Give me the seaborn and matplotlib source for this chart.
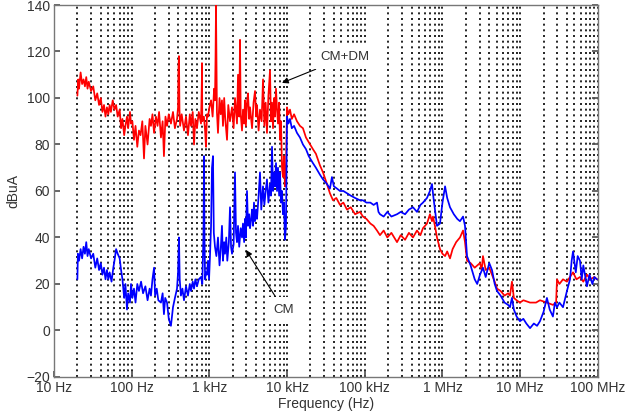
import matplotlib
matplotlib.use("Agg")
import matplotlib.pyplot as plt
import seaborn as sns
import pandas as pd
from matplotlib.ticker import FixedLocator, LogLocator, NullFormatter

# ---------------- data ----------------
cmdm_freq = [20, 20.5, 21, 22, 23, 24, 25, 26, 27, 28, 30, 32, 34, 36, 38, 40, 42, 44, 46, 48,
             50, 52, 54, 57, 60, 63, 66, 70, 73, 76, 80, 83, 87, 90, 95, 98, 102, 107, 112, 118,
             124, 130, 137, 144, 150, 160, 170, 177, 185, 194, 205, 215, 225, 238, 250, 260, 272,
             285, 300, 320, 340, 360, 383, 395, 400, 406, 412, 420, 440, 471, 500, 530, 560, 580,
             610, 634, 660, 692, 730, 780, 800, 803, 810, 850, 880, 904, 931, 960, 1000, 1050,
             1100, 1150, 1180, 1200, 1216, 1230, 1250, 1290, 1350, 1400, 1452, 1496, 1550, 1600,
             1686, 1750, 1842, 1955, 2050, 2135, 2266, 2335, 2420, 2478, 2530, 2630, 2706, 2800,
             2872, 2950, 3048, 3140, 3250, 3335, 3540, 3700, 3865, 4000, 4100, 4300, 4480, 4700,
             4900, 5100, 5300, 5510, 5750, 6030, 6200, 6400, 6590, 6800, 6990, 7200, 7420, 7640,
             7900, 8110, 8350, 8600, 8850, 9120, 9390, 9680, 9970, 10400, 10900, 11500, 12300,
             13400, 14650, 16000, 17500, 19000, 21500, 23500, 26500, 29000, 32600, 35600, 39000,
             43000, 48000, 53000, 59000, 66000, 75000, 86700, 94800, 105000, 118000, 130000,
             143600, 157000, 175000, 195000, 220000, 260000, 290000, 330000, 370000, 417000,
             470000, 520000, 561000, 632000, 690000, 733000, 755000, 800000, 850000, 929000,
             1.0e6, 1.08e6, 1.15e6, 1.25e6, 1.35e6, 1.5e6, 1.68e6, 1.84e6, 1.95e6, 2.07e6, 2.3e6,
             2.6e6, 3.04e6, 3.2e6, 3.32e6, 3.6e6, 4.0e6, 4.34e6, 4.7e6, 5.03e6, 5.6e6, 6.3e6,
             7.0e6, 7.39e6, 7.84e6, 8.3e6, 9.0e6, 9.93e6, 11e6, 13.4e6, 16e6, 18e6, 22.1e6,
             26.4e6, 29e6, 29.8e6, 32e6, 35.6e6, 40e6, 43.8e6, 47.9e6, 53e6, 58.9e6, 65e6,
             72.4e6, 80e6, 90e6, 97.3e6]
cmdm_dbua = [101, 108, 104, 111, 106, 108, 105, 109, 104, 107, 103, 105, 99, 102, 97, 100, 94, 97, 92, 96,
             93, 97, 94, 99, 95, 97, 92, 95, 87, 91, 84, 88, 92, 87, 94, 89, 90, 82, 88, 79,
             86, 84, 90, 74, 88, 80, 91, 88, 93, 85, 92, 88, 94, 83, 90, 75, 92,
             88, 93, 89, 94, 87, 91, 96, 113, 118, 95, 88, 93, 86, 92, 84, 93, 88,
             94, 80, 91, 87, 94, 89, 108, 115, 90, 92, 86, 79, 93, 92, 96, 99,
             92, 104, 99, 118, 140, 120, 94, 85, 100, 93, 99, 88, 100, 91,
             82, 97, 90, 96, 87, 100, 89, 110, 92, 125, 93, 86, 95, 89,
             99, 88, 98, 102, 91, 96, 87, 98, 103, 92, 97, 86, 95, 90,
             108, 88, 98, 85, 101, 112, 90, 98, 87, 100, 92, 104, 95, 89,
             98, 82, 90, 70, 66, 75, 62, 70, 96, 93, 95, 91, 93,
             90, 88, 87, 83, 81, 78, 76, 71, 68, 63, 59, 56,
             57, 54, 55, 52, 53, 50, 51, 49, 48, 46, 45,
             43, 41, 43, 40, 42, 38, 41, 39, 42, 40,
             43, 41, 44, 46, 50, 47, 49, 45, 40, 35,
             33, 32, 34, 31, 35, 38, 40, 43, 38, 30, 29,
             27, 29, 26, 32, 26, 27, 24, 21, 18, 17, 15,
             16, 15, 21, 14, 13, 12, 13, 12, 12, 13, 12,
             11, 12, 22, 20, 22, 21, 23, 25, 22, 23, 21,
             24, 22, 23, 22]

cm_freq = [20, 20.3, 21, 22, 23, 24, 25, 26, 27, 28, 30, 32, 34, 36, 38, 40, 42, 44, 46, 48,
           50, 52, 55, 58, 60, 63, 66, 70, 73, 76, 80, 83, 87, 90, 95, 98, 102, 107, 112, 118,
           124, 132, 140, 150, 160, 170, 177, 185, 194, 200, 210, 220, 238, 250, 260, 270, 285,
           300, 320, 340, 360, 383, 395, 406, 415, 430, 450, 471, 500, 530, 560, 580, 610, 634,
           660, 692, 730, 780, 810, 840, 853, 865, 880, 904, 931, 960, 990, 1018, 1050, 1080,
           1112, 1140, 1180, 1230, 1290, 1350, 1400, 1452, 1496, 1550, 1588, 1650, 1700, 1780,
           1842, 1900, 1955, 2050, 2135, 2200, 2266, 2335, 2420, 2530, 2630, 2706, 2800, 2872,
           2950, 3048, 3140, 3250, 3335, 3450, 3540, 3650, 3750, 3865, 4000, 4100, 4300, 4480,
           4650, 4900, 5100, 5300, 5510, 5750, 6030, 6200, 6400, 6590, 6800, 6990, 7200, 7420,
           7640, 7900, 8110, 8350, 8600, 8850, 9120, 9390, 9680, 9970, 10400, 10900, 11500,
           12300, 13400, 14650, 16000, 17500, 19000, 21500, 23500, 26500, 29000, 32600, 35600,
           37800, 40000, 44000, 48000, 53000, 59000, 66000, 75000, 86700, 94800, 105000, 118000,
           130000, 143600, 150000, 157000, 175000, 195000, 220000, 260000, 290000, 330000,
           370000, 417000, 470000, 520000, 561000, 632000, 690000, 733000, 760000, 800000,
           850000, 929000, 1.0e6, 1.08e6, 1.15e6, 1.25e6, 1.4e6, 1.55e6, 1.68e6, 1.84e6, 1.95e6,
           2.07e6, 2.3e6, 2.6e6, 2.8e6, 3.04e6, 3.32e6, 3.6e6, 4.0e6, 4.34e6, 4.7e6, 5.03e6,
           5.6e6, 6.3e6, 7.0e6, 7.39e6, 7.84e6, 8.3e6, 9.0e6, 9.93e6, 11e6, 12e6, 13.4e6, 15e6,
           16.5e6, 18e6, 20e6, 22.1e6, 24e6, 26.4e6, 28e6, 29.8e6, 32e6, 35.6e6, 40e6, 43.8e6,
           46e6, 47.9e6, 52e6, 55e6, 58.9e6, 62e6, 65e6, 72.4e6, 78e6, 85e6, 90e6, 97.3e6]
cm_dbua = [22, 33, 30, 35, 31, 36, 33, 38, 32, 35, 31, 33, 27, 31, 26, 29, 24, 27, 22, 26,
           22, 25, 21, 27, 30, 35, 33, 31, 26, 22, 14, 20, 9, 16, 12, 20, 14, 18, 12, 20,
           17, 21, 16, 19, 13, 18, 15, 22, 27, 15, 18, 13, 12, 16, 7, 14, 12,
           5, 2, 10, 14, 18, 25, 40, 22, 15, 18, 13, 19, 15, 20, 17, 21, 18,
           22, 19, 22, 23, 20, 42, 75, 40, 22, 25, 24, 30, 22, 32, 45, 70,
           75, 42, 36, 32, 40, 28, 35, 45, 30, 38, 33, 40, 30, 38,
           53, 36, 33, 37, 68, 42, 38, 45, 36, 44, 40, 46, 38, 48,
           40, 60, 45, 50, 44, 48, 52, 45, 55, 47, 52, 48, 58, 68,
           52, 62, 54, 60, 65, 55, 63, 58, 79, 60, 68, 62, 72, 60,
           70, 58, 68, 55, 60, 50, 55, 39, 45, 92, 89, 91, 87,
           88, 85, 83, 80, 78, 75, 72, 70, 67, 65, 63, 61,
           66, 62, 61, 60, 60, 59, 58, 57, 56, 56, 55, 55,
           54, 55, 51, 50, 49, 51, 49, 50, 51, 50,
           52, 53, 51, 54, 55, 57, 60, 63, 58, 52,
           45, 46, 55, 62, 57, 53, 50, 48, 47, 49, 45,
           32, 28, 22, 20, 24, 27, 23, 29, 26, 20, 17,
           15, 12, 11, 10, 14, 9, 6, 4, 5, 3, 1, 3,
           2, 4, 8, 14, 9, 6, 12, 10, 12, 10, 17, 22,
           30, 34, 25, 32, 30, 22, 28, 19, 24, 20, 23, 22]

x_tick_values = [10, 100, 1e3, 1e4, 1e5, 1e6, 1e7, 1e8]
x_tick_labels = ["10 Hz", "100 Hz", "1 kHz", "10 kHz", "100 kHz", "1 MHz", "10 MHz", "100 MHz"]
y_tick_values = [-20, 0, 20, 40, 60, 80, 100, 120, 140]

# ---------------- plotting ----------------
sns.set_theme(style="white")
plt.rcParams["font.family"] = ["Liberation Sans", "DejaVu Sans"]

df_cmdm = pd.DataFrame({"freq": cmdm_freq, "dbua": cmdm_dbua})
df_cm = pd.DataFrame({"freq": cm_freq, "dbua": cm_dbua})

fig = plt.figure(figsize=(6.28, 4.17), dpi=100)
ax = fig.add_axes([0.086, 0.096, 0.866, 0.892])

ax.set_xscale("log")
sns.lineplot(data=df_cmdm, x="freq", y="dbua", ax=ax, color="#ff0000",
             linewidth=1.25, estimator=None, sort=False, zorder=3)
sns.lineplot(data=df_cm, x="freq", y="dbua", ax=ax, color="#0000ff",
             linewidth=1.25, estimator=None, sort=False, zorder=3)

ax.set_xlim(10, 1e8)
ax.set_ylim(-20, 140)
ax.xaxis.set_major_locator(FixedLocator(x_tick_values))
ax.set_xticklabels(x_tick_labels)
ax.xaxis.set_minor_locator(LogLocator(base=10, subs=range(2, 10), numticks=20))
ax.xaxis.set_minor_formatter(NullFormatter())
ax.set_yticks(y_tick_values)

ax.grid(False)
ax.grid(True, which="both", axis="x", color="black", linestyle=(0, (1.2, 2.2)),
        linewidth=1.2, zorder=1)
ax.set_axisbelow(True)

text_color = "#333333"
ax.tick_params(axis="both", which="major", direction="in", length=4, labelsize=10,
               labelcolor=text_color, color="#555555", right=True, left=True,
               bottom=True, top=False, pad=3)
ax.tick_params(axis="x", which="minor", length=0)
for s in ax.spines.values():
    s.set_color("#777777")
    s.set_linewidth(1.0)

ax.set_xlabel("Frequency (Hz)", fontsize=10, color=text_color, labelpad=1)
ax.set_ylabel("dBuA", fontsize=10, color=text_color, labelpad=4)

ax.annotate("CM+DM", xy=(8600, 106.5), xytext=(27000, 117.5), fontsize=9.5,
            color=text_color, ha="left", va="center",
            bbox=dict(boxstyle="square,pad=0.45", fc="white", ec="none"),
            arrowprops=dict(arrowstyle="-|>", color="black", lw=0.8,
                            mutation_scale=9, shrinkA=0, shrinkB=0),
            zorder=5)
ax.annotate("CM", xy=(2960, 34.6), xytext=(9000, 9), fontsize=9.5,
            color=text_color, ha="center", va="center",
            bbox=dict(boxstyle="square,pad=0.5", fc="white", ec="none"),
            arrowprops=dict(arrowstyle="-|>", color="black", lw=0.8,
                            mutation_scale=9, shrinkA=0, shrinkB=0),
            zorder=5)

ax.get_legend() and ax.get_legend().remove()
fig.savefig("out.png", dpi=100)
